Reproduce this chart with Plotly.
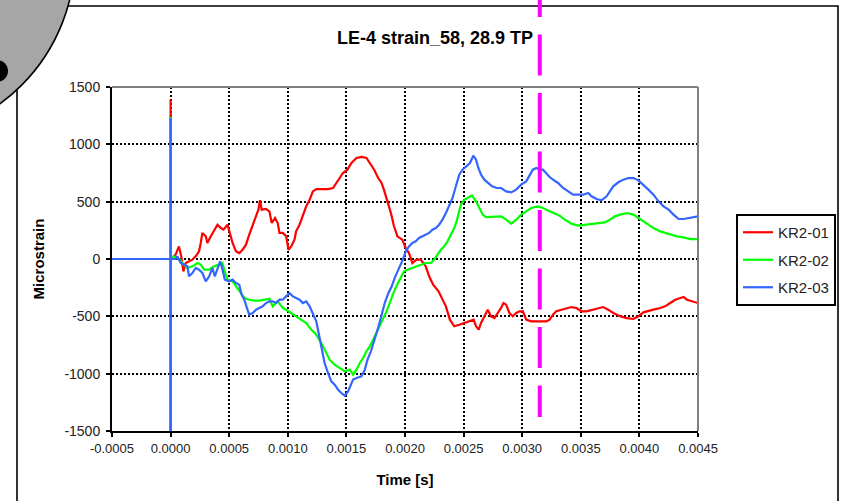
import plotly.graph_objects as go

# ---- strain records (time in microseconds, strain in microstrain) ----
red_time_us = [-500, 0, 0, 0, 0, 43, 71, 91, 109, 129, 157, 186, 214, 243, 257, 271, 300, 314, 343, 366, 400, 429, 451, 486, 500,
               529, 557, 586, 614, 643, 671, 700, 729, 749, 763, 777, 814, 843, 863, 891, 914, 929, 957, 986, 1006, 1029, 1057,
               1071, 1100, 1129, 1157, 1186, 1214, 1243, 1286, 1343, 1386, 1414, 1443, 1471, 1509, 1543, 1586, 1628, 1671, 1700,
               1737, 1771, 1800, 1820, 1845, 1863, 1880, 1905, 1935, 1977, 2006, 2034, 2063, 2097, 2134, 2177, 2206, 2240, 2286,
               2320, 2349, 2383, 2420, 2463, 2506, 2549, 2586, 2606, 2629, 2649, 2677, 2706, 2734, 2763, 2791, 2820, 2840, 2863,
               2891, 2920, 2949, 2977, 3006, 3034, 3077, 3120, 3163, 3206, 3234, 3263, 3291, 3334, 3377, 3420, 3463, 3506, 3549,
               3606, 3649, 3691, 3734, 3777, 3834, 3891, 3949, 3991, 4034, 4077, 4120, 4177, 4220, 4263, 4306, 4349, 4377, 4406,
               4449, 4500]
red_strain = [0, 0, 1390, -1600, 0, 38, 110, 23, -108, -35, -20, -6, 23, 67, 140, 227, 198, 140, 198, 241, 299, 270, 256, 299, 241,
              140, 67, 52, 81, 125, 212, 299, 387, 430, 512, 430, 436, 416, 314, 358, 314, 227, 227, 198, 81, 110, 169,
              241, 299, 387, 459, 517, 590, 610, 610, 610, 619, 663, 706, 750, 779, 837, 881, 890, 881, 837,
              779, 706, 663, 605, 530, 459, 400, 290, 198, 169, 96, 52, -35, -6, -6, -64, -151, -224, -282,
              -355, -413, -529, -587, -573, -558, -544, -529, -587, -616, -558, -500, -442, -500, -515, -471, -427, -384, -398,
              -471, -500, -471, -456, -456, -529, -544, -544, -544, -544, -529, -485, -456, -442, -427, -419, -427, -456, -456,
              -442, -427, -419, -442, -471, -500, -515, -523, -500, -465, -456, -442, -427, -413, -384, -355, -340, -331, -355,
              -369, -384]

green_time_us = [-500, 0, 0, 0, 0, 29, 71, 114, 143, 186, 229, 257, 286, 329, 371, 414, 443, 457, 486, 529, 557, 594, 629, 671,
                 714, 757, 800, 843, 871, 914, 957, 986, 1029, 1071, 1114, 1157, 1200, 1243, 1286, 1314, 1357, 1400, 1443, 1486,
                 1529, 1557, 1586, 1614, 1643, 1671, 1700, 1729, 1757, 1786, 1814, 1843, 1871, 1900, 1930, 1963, 1991, 2020,
                 2063, 2106, 2134, 2177, 2220, 2249, 2277, 2306, 2334, 2363, 2391, 2420, 2440, 2457, 2477, 2506, 2534, 2571,
                 2606, 2634, 2663, 2691, 2734, 2777, 2820, 2863, 2906, 2949, 2991, 3034, 3077, 3134, 3177, 3220, 3263, 3320,
                 3363, 3420, 3477, 3534, 3591, 3649, 3706, 3749, 3791, 3834, 3891, 3949, 3991, 4034, 4077, 4120, 4177, 4220,
                 4263, 4320, 4377, 4434, 4500]
green_strain = [0, 0, 1240, -1600, 0, 23, 0, -49, -78, -64, -35, -49, -93, -93, -64, -49, -35, -93, -180, -195, -238, -297, -340, -355,
                -363, -363, -355, -346, -413, -369, -427, -442, -471, -500, -529, -558, -616, -660, -733, -791, -878, -922, -951, -980,
                -965, -1009, -965, -907, -863, -805, -762, -703, -645, -587, -520, -456, -370, -300, -230, -160, -110, -93,
                -78, -64, -49, -35, -35, -6, 38, 81, 110, 154, 212, 270, 328, 401, 474, 517, 532, 555,
                503, 445, 387, 366, 366, 372, 372, 343, 308, 343, 387, 416, 445, 459, 445, 422, 401, 378,
                343, 308, 291, 299, 308, 314, 320, 343, 372, 387, 401, 387, 358, 328, 299, 270, 241, 227,
                212, 198, 189, 174, 174]

blue_time_us = [-500, 0, 0, 0, 0, 43, 57, 86, 114, 143, 157, 186, 214, 243, 271, 300, 329, 357, 377, 400, 423, 443, 463, 500, 529,
                557, 586, 606, 629, 651, 671, 700, 729, 757, 786, 814, 843, 871, 900, 929, 957, 986, 1014, 1043, 1071, 1100,
                1129, 1157, 1186, 1214, 1243, 1263, 1286, 1314, 1343, 1371, 1400, 1429, 1457, 1486, 1514, 1537, 1557, 1586,
                1628, 1657, 1680, 1709, 1737, 1771, 1800, 1828, 1857, 1886, 1914, 1943, 1971, 1994, 2006, 2034, 2063, 2091,
                2120, 2149, 2177, 2206, 2234, 2263, 2291, 2320, 2349, 2377, 2406, 2434, 2463, 2491, 2526, 2554, 2583, 2606,
                2626, 2649, 2677, 2706, 2743, 2783, 2820, 2863, 2906, 2949, 2991, 3034, 3063, 3091, 3120, 3149, 3177, 3206,
                3234, 3263, 3306, 3349, 3391, 3434, 3477, 3520, 3563, 3591, 3634, 3677, 3720, 3749, 3777, 3820, 3863, 3906,
                3949, 3991, 4034, 4077, 4120, 4163, 4206, 4249, 4291, 4334, 4377, 4420, 4463, 4500]
blue_strain = [0, 0, 1230, -1600, 0, 0, 23, -35, -49, -64, -151, -122, -78, -93, -122, -195, -151, -78, -151, -93, -20, -93, -180, -195, -180,
               -209, -224, -311, -355, -427, -486, -471, -442, -427, -413, -384, -369, -369, -384, -355, -355, -326, -297, -326, -340, -355,
               -384, -369, -413, -486, -544, -645, -776, -907, -994, -1067, -1096, -1140, -1169, -1192, -1154, -1096, -1052, -1038,
               -1023, -965, -878, -805, -718, -600, -490, -380, -300, -240, -160, -100, -30, 30, 67, 110, 140, 154,
               183, 198, 212, 227, 256, 270, 299, 343, 401, 459, 532, 634, 735, 779, 808, 837, 901, 866,
               794, 735, 692, 663, 634, 619, 619, 590, 581, 605, 648, 677, 735, 779, 794, 779, 779, 744,
               715, 692, 663, 619, 590, 561, 561, 561, 576, 547, 523, 512, 547, 590, 634, 669, 692, 706,
               706, 686, 648, 605, 561, 503, 459, 430, 387, 349, 349, 358, 366, 372]

series_names = ["KR2-01", "KR2-02", "KR2-03"]
series_colors = ["#ff0000", "#00ff00", "#3366ff"]

x_tick_values = [-0.0005, 0.0, 0.0005, 0.0010, 0.0015, 0.0020, 0.0025, 0.0030, 0.0035, 0.0040, 0.0045]
x_tick_labels = ["-0.0005", "0.0000", "0.0005", "0.0010", "0.0015", "0.0020", "0.0025", "0.0030", "0.0035", "0.0040", "0.0045"]
y_tick_values = [-1500, -1000, -500, 0, 500, 1000, 1500]
y_tick_labels = ["-1500", "-1000", "-500", "0", "500", "1000", "1500"]

marker_time_s = 0.00315  # dashed reference time

# ---- page geometry ----
W, H = 842, 501
ML, MR, MT, MB = 112, 144, 87, 70
PW, PH = W - ML - MR, H - MT - MB


def px(x):
    return (x - ML) / PW


def py(y):
    return (H - MB - y) / PH


FONT = "Liberation Sans, Arial, sans-serif"

fig = go.Figure()
records = [(red_time_us, red_strain), (green_time_us, green_strain), (blue_time_us, blue_strain)]
for (t_us, strain), name, color in zip(records, series_names, series_colors):
    fig.add_trace(go.Scatter(
        x=[t * 1e-6 for t in t_us], y=strain, mode="lines", name=name,
        legendgroup=name, line=dict(color=color, width=2.2),
    ))

axis_common = dict(
    showline=True, linecolor="black", linewidth=2,
    ticks="outside", ticklen=4, tickwidth=1.5, tickcolor="black",
    showgrid=True, gridcolor="black", gridwidth=1.5, griddash="2px,2px",
    zeroline=False,
)

fig.update_layout(
    width=W, height=H, autosize=False,
    margin=dict(l=ML, r=MR, t=MT, b=MB, autoexpand=False),
    paper_bgcolor="white", plot_bgcolor="white",
    title=dict(text="LE-4 strain_58, 28.9 TP", x=435 / W, xref="container", xanchor="center",
               y=1 - 38 / H, yanchor="middle", font=dict(family=FONT, size=18, color="black", weight="bold")),
    xaxis=dict(range=[-0.0005, 0.0045], tickvals=x_tick_values, ticktext=x_tick_labels,
               tickfont=dict(family=FONT, size=13, color="#222"),
               title=dict(text="Time [s]", standoff=20, font=dict(family=FONT, size=15, color="black", weight="bold")),
               **axis_common),
    yaxis=dict(range=[-1500, 1500], tickvals=y_tick_values, ticktext=y_tick_labels,
               tickfont=dict(family=FONT, size=14, color="#222"), ticklabelstandoff=3,
               title=dict(text="Microstrain", standoff=16, font=dict(family=FONT, size=15, color="black", weight="bold")),
               **axis_common),
    legend=dict(x=px(736), y=py(214), xanchor="left", yanchor="top", bgcolor="white",
                bordercolor="black", borderwidth=2, tracegroupgap=5,
                font=dict(family=FONT, size=15, color="#222")),
    showlegend=True,
)

shapes = [
    # outer chart frame
    dict(type="rect", xref="paper", yref="paper", x0=px(17), x1=px(838), y0=py(520), y1=py(6),
         line=dict(color="black", width=1.6), fillcolor="rgba(0,0,0,0)", layer="above"),
    # grey badge in the corner
    dict(type="circle", xref="paper", yref="paper", x0=px(-291), x1=px(75), y0=py(139), y1=py(-227),
         line=dict(color="black", width=1.6), fillcolor="#a6a6a6", layer="above"),
    dict(type="circle", xref="paper", yref="paper", x0=px(-14), x1=px(8), y0=py(82), y1=py(60),
         line=dict(color="black", width=0), fillcolor="black", layer="above"),
    # plot-area top and right edges
    dict(type="line", xref="paper", yref="paper", x0=0, x1=1, y0=1, y1=1,
         line=dict(color="#808080", width=2), layer="above"),
    dict(type="line", xref="paper", yref="paper", x0=1, x1=1, y0=0, y1=1,
         line=dict(color="#808080", width=2), layer="above"),
    # dashed marker time
    dict(type="line", xref="x", yref="paper", x0=marker_time_s, x1=marker_time_s, y0=py(-24), y1=py(417),
         line=dict(color="#ff00ff", width=4, dash="41px,17.5px"), layer="above"),
]
fig.update_layout(shapes=shapes)

fig.write_html("out.html")
